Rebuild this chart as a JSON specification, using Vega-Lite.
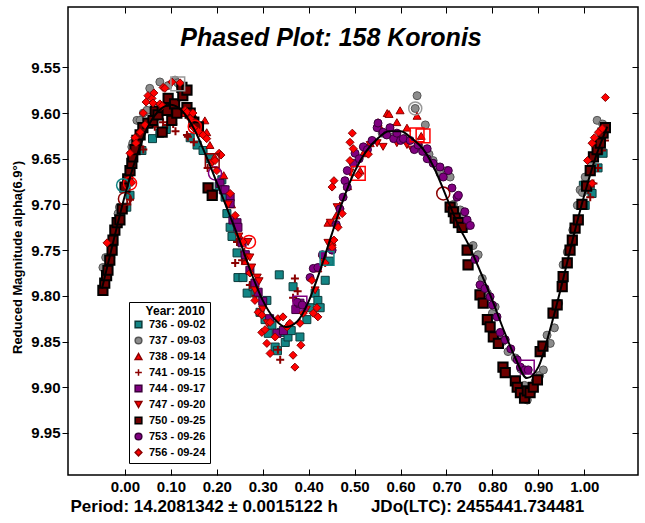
{
"$schema": "https://vega.github.io/schema/vega-lite/v6.json",
"width": 570,
"height": 468,
"autosize": "none",
"padding": {"left": 68, "top": 7, "right": 7, "bottom": 48},
"background": "white",
"config": {"view": {"stroke": "#000", "strokeWidth": 1.5}, "font": "Liberation Sans",
 "legend": {"orient": "none", "legendX": 61, "legendY": 295, "fillColor": "white", "strokeColor": "#000", "padding": 4, "titleFont": "Liberation Sans", "titleFontSize": 12, "titleFontWeight": "bold", "titleColor": "#000", "titleAnchor": "end", "titlePadding": 1, "labelFont": "Liberation Sans", "labelFontSize": 11, "labelFontWeight": "bold", "labelColor": "#000", "symbolSize": 45, "rowPadding": 3, "labelOffset": 5}},
"title": {"text": "Phased Plot: 158 Koronis", "font": "Liberation Sans", "fontSize": 25, "fontStyle": "italic", "fontWeight": "bold", "color": "#000", "anchor": "middle", "dx": -22, "offset": -64, "baseline": "alphabetic"},
"datasets": {
"pts": [
{"series":"736 - 09-02","phase":-0.01,"mag":9.708},{"series":"736 - 09-02","phase":0.004,"mag":9.703},{"series":"736 - 09-02","phase":0.011,"mag":9.69},{"series":"736 - 09-02","phase":0.037,"mag":9.641},{"series":"736 - 09-02","phase":0.06,"mag":9.628},{"series":"736 - 09-02","phase":0.076,"mag":9.622},{"series":"736 - 09-02","phase":0.09,"mag":9.618},{"series":"736 - 09-02","phase":0.142,"mag":9.627},{"series":"736 - 09-02","phase":0.157,"mag":9.635},{"series":"736 - 09-02","phase":0.17,"mag":9.641},{"series":"736 - 09-02","phase":0.185,"mag":9.65},{"series":"736 - 09-02","phase":0.192,"mag":9.688},{"series":"736 - 09-02","phase":0.205,"mag":9.68},{"series":"736 - 09-02","phase":0.211,"mag":9.673},{"series":"736 - 09-02","phase":0.218,"mag":9.692},{"series":"736 - 09-02","phase":0.222,"mag":9.71},{"series":"736 - 09-02","phase":0.229,"mag":9.725},{"series":"736 - 09-02","phase":0.233,"mag":9.735},{"series":"736 - 09-02","phase":0.244,"mag":9.753},{"series":"736 - 09-02","phase":0.246,"mag":9.78},{"series":"736 - 09-02","phase":0.257,"mag":9.78},{"series":"736 - 09-02","phase":0.266,"mag":9.797},{"series":"736 - 09-02","phase":0.279,"mag":9.79},{"series":"736 - 09-02","phase":0.285,"mag":9.797},{"series":"736 - 09-02","phase":0.294,"mag":9.818},{"series":"736 - 09-02","phase":0.305,"mag":9.826},{"series":"736 - 09-02","phase":0.309,"mag":9.805},{"series":"736 - 09-02","phase":0.312,"mag":9.841},{"series":"736 - 09-02","phase":0.32,"mag":9.832},{"series":"736 - 09-02","phase":0.327,"mag":9.856},{"series":"736 - 09-02","phase":0.332,"mag":9.86},{"series":"736 - 09-02","phase":0.336,"mag":9.777},{"series":"736 - 09-02","phase":0.34,"mag":9.84},{"series":"736 - 09-02","phase":0.349,"mag":9.851},{"series":"736 - 09-02","phase":0.355,"mag":9.845},{"series":"736 - 09-02","phase":0.362,"mag":9.838},{"series":"736 - 09-02","phase":0.366,"mag":9.79},{"series":"736 - 09-02","phase":0.381,"mag":9.845},{"series":"736 - 09-02","phase":0.396,"mag":9.826},{"series":"736 - 09-02","phase":0.403,"mag":9.813},{"series":"736 - 09-02","phase":0.414,"mag":9.797},{"series":"736 - 09-02","phase":0.42,"mag":9.805},{"series":"736 - 09-02","phase":0.425,"mag":9.813},{"series":"736 - 09-02","phase":0.436,"mag":9.783},{"series":"736 - 09-02","phase":0.445,"mag":9.762},{"series":"736 - 09-02","phase":0.998,"mag":9.679},{"series":"736 - 09-02","phase":1.002,"mag":9.701},{"series":"736 - 09-02","phase":1.013,"mag":9.684},{"series":"736 - 09-02","phase":1.017,"mag":9.688},{"series":"736 - 09-02","phase":1.03,"mag":9.66},{"series":"736 - 09-02","phase":1.041,"mag":9.644},
{"series":"737 - 09-03","phase":-0.048,"mag":9.769},{"series":"737 - 09-03","phase":-0.042,"mag":9.758},{"series":"737 - 09-03","phase":-0.015,"mag":9.71},{"series":"737 - 09-03","phase":-0.012,"mag":9.703},{"series":"737 - 09-03","phase":0.015,"mag":9.637},{"series":"737 - 09-03","phase":0.017,"mag":9.633},{"series":"737 - 09-03","phase":0.026,"mag":9.608},{"series":"737 - 09-03","phase":0.033,"mag":9.608},{"series":"737 - 09-03","phase":0.04,"mag":9.6},{"series":"737 - 09-03","phase":0.048,"mag":9.597},{"series":"737 - 09-03","phase":0.054,"mag":9.573},{"series":"737 - 09-03","phase":0.076,"mag":9.566},{"series":"737 - 09-03","phase":0.094,"mag":9.57},{"series":"737 - 09-03","phase":0.109,"mag":9.564},{"series":"737 - 09-03","phase":0.12,"mag":9.57},{"series":"737 - 09-03","phase":0.115,"mag":9.567},{"series":"737 - 09-03","phase":0.56,"mag":9.622},{"series":"737 - 09-03","phase":0.585,"mag":9.626},{"series":"737 - 09-03","phase":0.61,"mag":9.628},{"series":"737 - 09-03","phase":0.636,"mag":9.581},{"series":"737 - 09-03","phase":0.632,"mag":9.595},{"series":"737 - 09-03","phase":0.64,"mag":9.636},{"series":"737 - 09-03","phase":0.654,"mag":9.613},{"series":"737 - 09-03","phase":0.662,"mag":9.645},{"series":"737 - 09-03","phase":0.671,"mag":9.652},{"series":"737 - 09-03","phase":0.68,"mag":9.659},{"series":"737 - 09-03","phase":0.686,"mag":9.666},{"series":"737 - 09-03","phase":0.701,"mag":9.663},{"series":"737 - 09-03","phase":0.708,"mag":9.67},{"series":"737 - 09-03","phase":0.715,"mag":9.7},{"series":"737 - 09-03","phase":0.73,"mag":9.706},{"series":"737 - 09-03","phase":0.736,"mag":9.712},{"series":"737 - 09-03","phase":0.747,"mag":9.723},{"series":"737 - 09-03","phase":0.758,"mag":9.745},{"series":"737 - 09-03","phase":0.769,"mag":9.755},{"series":"737 - 09-03","phase":0.778,"mag":9.781},{"series":"737 - 09-03","phase":0.789,"mag":9.797},{"series":"737 - 09-03","phase":0.8,"mag":9.819},{"series":"737 - 09-03","phase":0.806,"mag":9.812},{"series":"737 - 09-03","phase":0.813,"mag":9.845},{"series":"737 - 09-03","phase":0.822,"mag":9.85},{"series":"737 - 09-03","phase":0.834,"mag":9.861},{"series":"737 - 09-03","phase":0.85,"mag":9.868},{"series":"737 - 09-03","phase":0.862,"mag":9.88},{"series":"737 - 09-03","phase":0.87,"mag":9.898},{"series":"737 - 09-03","phase":0.876,"mag":9.914},{"series":"737 - 09-03","phase":0.885,"mag":9.905},{"series":"737 - 09-03","phase":0.893,"mag":9.894},{"series":"737 - 09-03","phase":0.903,"mag":9.887},{"series":"737 - 09-03","phase":0.911,"mag":9.881},{"series":"737 - 09-03","phase":0.919,"mag":9.843},{"series":"737 - 09-03","phase":0.926,"mag":9.852},{"series":"737 - 09-03","phase":0.935,"mag":9.835},{"series":"737 - 09-03","phase":0.944,"mag":9.808},{"series":"737 - 09-03","phase":0.954,"mag":9.766},{"series":"737 - 09-03","phase":0.963,"mag":9.752},{"series":"737 - 09-03","phase":0.975,"mag":9.728},{"series":"737 - 09-03","phase":0.985,"mag":9.701},{"series":"737 - 09-03","phase":0.991,"mag":9.684},{"series":"737 - 09-03","phase":0.996,"mag":9.687},{"series":"737 - 09-03","phase":1.002,"mag":9.67},{"series":"737 - 09-03","phase":1.015,"mag":9.655},{"series":"737 - 09-03","phase":1.028,"mag":9.608},{"series":"737 - 09-03","phase":1.04,"mag":9.612},
{"series":"738 - 09-14","phase":0.13,"mag":9.6},{"series":"738 - 09-14","phase":0.15,"mag":9.603},{"series":"738 - 09-14","phase":0.16,"mag":9.612},{"series":"738 - 09-14","phase":0.17,"mag":9.622},{"series":"738 - 09-14","phase":0.174,"mag":9.608},{"series":"738 - 09-14","phase":0.178,"mag":9.621},{"series":"738 - 09-14","phase":0.185,"mag":9.635},{"series":"738 - 09-14","phase":0.195,"mag":9.648},{"series":"738 - 09-14","phase":0.215,"mag":9.668},{"series":"738 - 09-14","phase":0.232,"mag":9.7},{"series":"738 - 09-14","phase":0.25,"mag":9.735},{"series":"738 - 09-14","phase":0.262,"mag":9.762},{"series":"738 - 09-14","phase":0.42,"mag":9.77},{"series":"738 - 09-14","phase":0.442,"mag":9.72},{"series":"738 - 09-14","phase":0.451,"mag":9.741},{"series":"738 - 09-14","phase":0.46,"mag":9.712},{"series":"738 - 09-14","phase":0.468,"mag":9.701},{"series":"738 - 09-14","phase":0.485,"mag":9.68},{"series":"738 - 09-14","phase":0.512,"mag":9.663},{"series":"738 - 09-14","phase":0.519,"mag":9.644},{"series":"738 - 09-14","phase":0.534,"mag":9.633},{"series":"738 - 09-14","phase":0.551,"mag":9.61},{"series":"738 - 09-14","phase":0.556,"mag":9.616},{"series":"738 - 09-14","phase":0.571,"mag":9.6},{"series":"738 - 09-14","phase":0.575,"mag":9.601},{"series":"738 - 09-14","phase":0.592,"mag":9.61},{"series":"738 - 09-14","phase":0.599,"mag":9.597},{"series":"738 - 09-14","phase":0.614,"mag":9.616},{"series":"738 - 09-14","phase":0.636,"mag":9.603},{"series":"738 - 09-14","phase":0.645,"mag":9.625},
{"series":"741 - 09-15","phase":-0.045,"mag":9.785},{"series":"741 - 09-15","phase":-0.03,"mag":9.758},{"series":"741 - 09-15","phase":-0.01,"mag":9.72},{"series":"741 - 09-15","phase":0.011,"mag":9.695},{"series":"741 - 09-15","phase":0.005,"mag":9.7},{"series":"741 - 09-15","phase":0.033,"mag":9.637},{"series":"741 - 09-15","phase":0.04,"mag":9.64},{"series":"741 - 09-15","phase":0.065,"mag":9.615},{"series":"741 - 09-15","phase":0.083,"mag":9.61},{"series":"741 - 09-15","phase":0.092,"mag":9.613},{"series":"741 - 09-15","phase":0.105,"mag":9.612},{"series":"741 - 09-15","phase":0.11,"mag":9.62},{"series":"741 - 09-15","phase":0.135,"mag":9.624},{"series":"741 - 09-15","phase":0.137,"mag":9.626},{"series":"741 - 09-15","phase":0.15,"mag":9.632},{"series":"741 - 09-15","phase":0.18,"mag":9.66},{"series":"741 - 09-15","phase":0.244,"mag":9.741},{"series":"741 - 09-15","phase":0.24,"mag":9.764},{"series":"741 - 09-15","phase":0.255,"mag":9.761},{"series":"741 - 09-15","phase":0.26,"mag":9.752},{"series":"741 - 09-15","phase":0.272,"mag":9.788},{"series":"741 - 09-15","phase":0.285,"mag":9.8},{"series":"741 - 09-15","phase":0.333,"mag":9.859},{"series":"741 - 09-15","phase":0.338,"mag":9.87},{"series":"741 - 09-15","phase":0.366,"mag":9.802},{"series":"741 - 09-15","phase":0.37,"mag":9.781},{"series":"741 - 09-15","phase":0.376,"mag":9.795},{"series":"741 - 09-15","phase":1.009,"mag":9.684},{"series":"741 - 09-15","phase":1.013,"mag":9.692},{"series":"741 - 09-15","phase":1.02,"mag":9.677},{"series":"741 - 09-15","phase":1.03,"mag":9.66},{"series":"741 - 09-15","phase":1.039,"mag":9.641},{"series":"741 - 09-15","phase":1.045,"mag":9.63},
{"series":"744 - 09-17","phase":0.207,"mag":9.677},{"series":"744 - 09-17","phase":0.214,"mag":9.684},{"series":"744 - 09-17","phase":0.218,"mag":9.684},{"series":"744 - 09-17","phase":0.229,"mag":9.692},{"series":"744 - 09-17","phase":0.229,"mag":9.699},{"series":"744 - 09-17","phase":0.235,"mag":9.717},{"series":"744 - 09-17","phase":0.244,"mag":9.72},{"series":"744 - 09-17","phase":0.246,"mag":9.725},{"series":"744 - 09-17","phase":0.255,"mag":9.742},{"series":"744 - 09-17","phase":0.262,"mag":9.755},{"series":"744 - 09-17","phase":0.272,"mag":9.772},{"series":"744 - 09-17","phase":0.283,"mag":9.786},{"series":"744 - 09-17","phase":0.29,"mag":9.796},{"series":"744 - 09-17","phase":0.3,"mag":9.806},{"series":"744 - 09-17","phase":0.315,"mag":9.825},{"series":"744 - 09-17","phase":0.331,"mag":9.841},{"series":"744 - 09-17","phase":0.345,"mag":9.838},{"series":"744 - 09-17","phase":0.372,"mag":9.815},{"series":"744 - 09-17","phase":0.381,"mag":9.808},
{"series":"747 - 09-20","phase":0.19,"mag":9.655},{"series":"747 - 09-20","phase":0.225,"mag":9.7},{"series":"747 - 09-20","phase":0.248,"mag":9.735},{"series":"747 - 09-20","phase":0.266,"mag":9.758},{"series":"747 - 09-20","phase":0.268,"mag":9.741},{"series":"747 - 09-20","phase":0.272,"mag":9.758},{"series":"747 - 09-20","phase":0.276,"mag":9.769},{"series":"747 - 09-20","phase":0.283,"mag":9.794},{"series":"747 - 09-20","phase":0.288,"mag":9.78},{"series":"747 - 09-20","phase":0.292,"mag":9.784},{"series":"747 - 09-20","phase":0.3,"mag":9.815},{"series":"747 - 09-20","phase":0.31,"mag":9.83},{"series":"747 - 09-20","phase":0.395,"mag":9.815},{"series":"747 - 09-20","phase":0.414,"mag":9.794},{"series":"747 - 09-20","phase":0.43,"mag":9.76},{"series":"747 - 09-20","phase":0.442,"mag":9.742},{"series":"747 - 09-20","phase":0.447,"mag":9.72},{"series":"747 - 09-20","phase":0.462,"mag":9.703},{"series":"747 - 09-20","phase":0.49,"mag":9.665},{"series":"747 - 09-20","phase":0.51,"mag":9.65},{"series":"747 - 09-20","phase":0.534,"mag":9.635},{"series":"747 - 09-20","phase":0.549,"mag":9.633},{"series":"747 - 09-20","phase":0.562,"mag":9.637},{"series":"747 - 09-20","phase":0.592,"mag":9.633},{"series":"747 - 09-20","phase":0.614,"mag":9.635},{"series":"747 - 09-20","phase":0.625,"mag":9.64},
{"series":"750 - 09-25","phase":-0.048,"mag":9.794},{"series":"750 - 09-25","phase":-0.044,"mag":9.786},{"series":"750 - 09-25","phase":-0.04,"mag":9.778},{"series":"750 - 09-25","phase":-0.037,"mag":9.772},{"series":"750 - 09-25","phase":-0.033,"mag":9.761},{"series":"750 - 09-25","phase":-0.028,"mag":9.75},{"series":"750 - 09-25","phase":-0.026,"mag":9.739},{"series":"750 - 09-25","phase":-0.022,"mag":9.728},{"series":"750 - 09-25","phase":-0.017,"mag":9.72},{"series":"750 - 09-25","phase":-0.011,"mag":9.717},{"series":"750 - 09-25","phase":-0.006,"mag":9.705},{"series":"750 - 09-25","phase":0.0,"mag":9.681},{"series":"750 - 09-25","phase":0.006,"mag":9.672},{"series":"750 - 09-25","phase":0.011,"mag":9.663},{"series":"750 - 09-25","phase":0.015,"mag":9.655},{"series":"750 - 09-25","phase":0.017,"mag":9.648},{"series":"750 - 09-25","phase":0.022,"mag":9.64},{"series":"750 - 09-25","phase":0.026,"mag":9.63},{"series":"750 - 09-25","phase":0.033,"mag":9.624},{"series":"750 - 09-25","phase":0.039,"mag":9.616},{"series":"750 - 09-25","phase":0.05,"mag":9.611},{"series":"750 - 09-25","phase":0.061,"mag":9.608},{"series":"750 - 09-25","phase":0.066,"mag":9.598},{"series":"750 - 09-25","phase":0.072,"mag":9.602},{"series":"750 - 09-25","phase":0.081,"mag":9.594},{"series":"750 - 09-25","phase":0.081,"mag":9.621},{"series":"750 - 09-25","phase":0.092,"mag":9.597},{"series":"750 - 09-25","phase":0.094,"mag":9.584},{"series":"750 - 09-25","phase":0.102,"mag":9.608},{"series":"750 - 09-25","phase":0.108,"mag":9.59},{"series":"750 - 09-25","phase":0.113,"mag":9.6},{"series":"750 - 09-25","phase":0.124,"mag":9.572},{"series":"750 - 09-25","phase":0.126,"mag":9.581},{"series":"750 - 09-25","phase":0.135,"mag":9.594},{"series":"750 - 09-25","phase":0.135,"mag":9.575},{"series":"750 - 09-25","phase":0.142,"mag":9.6},{"series":"750 - 09-25","phase":0.15,"mag":9.61},{"series":"750 - 09-25","phase":0.16,"mag":9.615},{"series":"750 - 09-25","phase":0.181,"mag":9.682},{"series":"750 - 09-25","phase":0.19,"mag":9.69},{"series":"750 - 09-25","phase":0.708,"mag":9.703},{"series":"750 - 09-25","phase":0.715,"mag":9.708},{"series":"750 - 09-25","phase":0.719,"mag":9.715},{"series":"750 - 09-25","phase":0.726,"mag":9.72},{"series":"750 - 09-25","phase":0.734,"mag":9.725},{"series":"750 - 09-25","phase":0.745,"mag":9.75},{"series":"750 - 09-25","phase":0.747,"mag":9.766},{"series":"750 - 09-25","phase":0.773,"mag":9.799},{"series":"750 - 09-25","phase":0.78,"mag":9.808},{"series":"750 - 09-25","phase":0.789,"mag":9.826},{"series":"750 - 09-25","phase":0.795,"mag":9.834},{"series":"750 - 09-25","phase":0.802,"mag":9.845},{"series":"750 - 09-25","phase":0.813,"mag":9.852},{"series":"750 - 09-25","phase":0.823,"mag":9.878},{"series":"750 - 09-25","phase":0.828,"mag":9.884},{"series":"750 - 09-25","phase":0.85,"mag":9.893},{"series":"750 - 09-25","phase":0.854,"mag":9.9},{"series":"750 - 09-25","phase":0.861,"mag":9.906},{"series":"750 - 09-25","phase":0.87,"mag":9.912},{"series":"750 - 09-25","phase":0.876,"mag":9.904},{"series":"750 - 09-25","phase":0.882,"mag":9.906},{"series":"750 - 09-25","phase":0.889,"mag":9.9},{"series":"750 - 09-25","phase":0.898,"mag":9.892},{"series":"750 - 09-25","phase":0.904,"mag":9.861},{"series":"750 - 09-25","phase":0.91,"mag":9.855},{"series":"750 - 09-25","phase":0.932,"mag":9.819},{"series":"750 - 09-25","phase":0.941,"mag":9.81},{"series":"750 - 09-25","phase":0.952,"mag":9.79},{"series":"750 - 09-25","phase":0.954,"mag":9.779},{"series":"750 - 09-25","phase":0.963,"mag":9.764},{"series":"750 - 09-25","phase":0.969,"mag":9.75},{"series":"750 - 09-25","phase":0.974,"mag":9.739},{"series":"750 - 09-25","phase":0.98,"mag":9.726},{"series":"750 - 09-25","phase":0.987,"mag":9.717},{"series":"750 - 09-25","phase":0.995,"mag":9.7},{"series":"750 - 09-25","phase":1.005,"mag":9.68},{"series":"750 - 09-25","phase":1.013,"mag":9.663},{"series":"750 - 09-25","phase":1.02,"mag":9.648},{"series":"750 - 09-25","phase":1.028,"mag":9.64},{"series":"750 - 09-25","phase":1.035,"mag":9.633},{"series":"750 - 09-25","phase":1.041,"mag":9.622},{"series":"750 - 09-25","phase":1.046,"mag":9.616},
{"series":"753 - 09-26","phase":0.375,"mag":9.807},{"series":"753 - 09-26","phase":0.386,"mag":9.81},{"series":"753 - 09-26","phase":0.403,"mag":9.78},{"series":"753 - 09-26","phase":0.41,"mag":9.77},{"series":"753 - 09-26","phase":0.42,"mag":9.769},{"series":"753 - 09-26","phase":0.43,"mag":9.755},{"series":"753 - 09-26","phase":0.451,"mag":9.75},{"series":"753 - 09-26","phase":0.46,"mag":9.722},{"series":"753 - 09-26","phase":0.468,"mag":9.705},{"series":"753 - 09-26","phase":0.475,"mag":9.692},{"series":"753 - 09-26","phase":0.479,"mag":9.674},{"series":"753 - 09-26","phase":0.484,"mag":9.681},{"series":"753 - 09-26","phase":0.484,"mag":9.663},{"series":"753 - 09-26","phase":0.497,"mag":9.655},{"series":"753 - 09-26","phase":0.501,"mag":9.644},{"series":"753 - 09-26","phase":0.51,"mag":9.65},{"series":"753 - 09-26","phase":0.519,"mag":9.637},{"series":"753 - 09-26","phase":0.528,"mag":9.64},{"series":"753 - 09-26","phase":0.538,"mag":9.63},{"series":"753 - 09-26","phase":0.549,"mag":9.616},{"series":"753 - 09-26","phase":0.551,"mag":9.611},{"series":"753 - 09-26","phase":0.562,"mag":9.621},{"series":"753 - 09-26","phase":0.57,"mag":9.624},{"series":"753 - 09-26","phase":0.577,"mag":9.616},{"series":"753 - 09-26","phase":0.585,"mag":9.628},{"series":"753 - 09-26","phase":0.592,"mag":9.622},{"series":"753 - 09-26","phase":0.6,"mag":9.63},{"series":"753 - 09-26","phase":0.606,"mag":9.628},{"series":"753 - 09-26","phase":0.621,"mag":9.63},{"series":"753 - 09-26","phase":0.63,"mag":9.64},{"series":"753 - 09-26","phase":0.638,"mag":9.635},{"series":"753 - 09-26","phase":0.648,"mag":9.642},{"series":"753 - 09-26","phase":0.658,"mag":9.639},{"series":"753 - 09-26","phase":0.658,"mag":9.65},{"series":"753 - 09-26","phase":0.671,"mag":9.655},{"series":"753 - 09-26","phase":0.686,"mag":9.659},{"series":"753 - 09-26","phase":0.693,"mag":9.67},{"series":"753 - 09-26","phase":0.704,"mag":9.663},{"series":"753 - 09-26","phase":0.712,"mag":9.682},{"series":"753 - 09-26","phase":0.723,"mag":9.692},{"series":"753 - 09-26","phase":0.726,"mag":9.69},{"series":"753 - 09-26","phase":0.74,"mag":9.708},{"series":"753 - 09-26","phase":0.745,"mag":9.717},{"series":"753 - 09-26","phase":0.752,"mag":9.723},{"series":"753 - 09-26","phase":0.762,"mag":9.76},{"series":"753 - 09-26","phase":0.773,"mag":9.788},{"series":"753 - 09-26","phase":0.784,"mag":9.792},{"series":"753 - 09-26","phase":0.795,"mag":9.801},{"series":"753 - 09-26","phase":0.8,"mag":9.81},{"series":"753 - 09-26","phase":0.81,"mag":9.823},{"series":"753 - 09-26","phase":0.817,"mag":9.84},{"series":"753 - 09-26","phase":0.828,"mag":9.848},{"series":"753 - 09-26","phase":0.84,"mag":9.858},{"series":"753 - 09-26","phase":0.854,"mag":9.87},{"series":"753 - 09-26","phase":0.861,"mag":9.878},{"series":"753 - 09-26","phase":0.871,"mag":9.881},{"series":"753 - 09-26","phase":0.878,"mag":9.881},
{"series":"756 - 09-24","phase":-0.039,"mag":9.742},{"series":"756 - 09-24","phase":0.011,"mag":9.644},{"series":"756 - 09-24","phase":0.015,"mag":9.676},{"series":"756 - 09-24","phase":0.022,"mag":9.627},{"series":"756 - 09-24","phase":0.024,"mag":9.633},{"series":"756 - 09-24","phase":0.033,"mag":9.621},{"series":"756 - 09-24","phase":0.04,"mag":9.6},{"series":"756 - 09-24","phase":0.044,"mag":9.613},{"series":"756 - 09-24","phase":0.046,"mag":9.588},{"series":"756 - 09-24","phase":0.05,"mag":9.581},{"series":"756 - 09-24","phase":0.059,"mag":9.584},{"series":"756 - 09-24","phase":0.061,"mag":9.589},{"series":"756 - 09-24","phase":0.063,"mag":9.578},{"series":"756 - 09-24","phase":0.076,"mag":9.59},{"series":"756 - 09-24","phase":0.083,"mag":9.572},{"series":"756 - 09-24","phase":0.087,"mag":9.573},{"series":"756 - 09-24","phase":0.081,"mag":9.592},{"series":"756 - 09-24","phase":0.102,"mag":9.566},{"series":"756 - 09-24","phase":0.12,"mag":9.567},{"series":"756 - 09-24","phase":0.131,"mag":9.597},{"series":"756 - 09-24","phase":0.135,"mag":9.599},{"series":"756 - 09-24","phase":0.142,"mag":9.606},{"series":"756 - 09-24","phase":0.148,"mag":9.6},{"series":"756 - 09-24","phase":0.15,"mag":9.616},{"series":"756 - 09-24","phase":0.16,"mag":9.62},{"series":"756 - 09-24","phase":0.17,"mag":9.624},{"series":"756 - 09-24","phase":0.178,"mag":9.628},{"series":"756 - 09-24","phase":0.196,"mag":9.652},{"series":"756 - 09-24","phase":0.2,"mag":9.663},{"series":"756 - 09-24","phase":0.205,"mag":9.644},{"series":"756 - 09-24","phase":0.209,"mag":9.646},{"series":"756 - 09-24","phase":0.229,"mag":9.688},{"series":"756 - 09-24","phase":0.24,"mag":9.712},{"series":"756 - 09-24","phase":0.257,"mag":9.741},{"series":"756 - 09-24","phase":0.272,"mag":9.775},{"series":"756 - 09-24","phase":0.283,"mag":9.805},{"series":"756 - 09-24","phase":0.29,"mag":9.818},{"series":"756 - 09-24","phase":0.298,"mag":9.821},{"series":"756 - 09-24","phase":0.298,"mag":9.84},{"series":"756 - 09-24","phase":0.305,"mag":9.837},{"series":"756 - 09-24","phase":0.309,"mag":9.852},{"series":"756 - 09-24","phase":0.316,"mag":9.829},{"series":"756 - 09-24","phase":0.316,"mag":9.863},{"series":"756 - 09-24","phase":0.327,"mag":9.845},{"series":"756 - 09-24","phase":0.333,"mag":9.825},{"series":"756 - 09-24","phase":0.344,"mag":9.823},{"series":"756 - 09-24","phase":0.353,"mag":9.834},{"series":"756 - 09-24","phase":0.359,"mag":9.83},{"series":"756 - 09-24","phase":0.366,"mag":9.865},{"series":"756 - 09-24","phase":0.37,"mag":9.878},{"series":"756 - 09-24","phase":0.381,"mag":9.83},{"series":"756 - 09-24","phase":0.383,"mag":9.854},{"series":"756 - 09-24","phase":0.388,"mag":9.819},{"series":"756 - 09-24","phase":0.407,"mag":9.783},{"series":"756 - 09-24","phase":0.41,"mag":9.819},{"series":"756 - 09-24","phase":0.418,"mag":9.813},{"series":"756 - 09-24","phase":0.42,"mag":9.823},{"series":"756 - 09-24","phase":0.436,"mag":9.764},{"series":"756 - 09-24","phase":0.451,"mag":9.747},{"series":"756 - 09-24","phase":0.455,"mag":9.739},{"series":"756 - 09-24","phase":0.464,"mag":9.725},{"series":"756 - 09-24","phase":0.473,"mag":9.71},{"series":"756 - 09-24","phase":0.451,"mag":9.681},{"series":"756 - 09-24","phase":0.455,"mag":9.674},{"series":"756 - 09-24","phase":0.49,"mag":9.632},{"series":"756 - 09-24","phase":0.49,"mag":9.652},{"series":"756 - 09-24","phase":0.495,"mag":9.622},{"series":"756 - 09-24","phase":0.497,"mag":9.639},{"series":"756 - 09-24","phase":0.508,"mag":9.668},{"series":"756 - 09-24","phase":0.53,"mag":9.645},{"series":"756 - 09-24","phase":1.007,"mag":9.652},{"series":"756 - 09-24","phase":1.017,"mag":9.677},{"series":"756 - 09-24","phase":1.017,"mag":9.633},{"series":"756 - 09-24","phase":1.022,"mag":9.627},{"series":"756 - 09-24","phase":1.031,"mag":9.621},{"series":"756 - 09-24","phase":1.039,"mag":9.617},{"series":"756 - 09-24","phase":1.046,"mag":9.583}
],
"rings": [
{"series":"756 - 09-24","phase":0.152,"mag":9.615},{"series":"756 - 09-24","phase":0.011,"mag":9.677},{"series":"736 - 09-02","phase":-0.004,"mag":9.679},{"series":"744 - 09-17","phase":0.196,"mag":9.666},{"series":"747 - 09-20","phase":0.27,"mag":9.741},{"series":"737 - 09-03","phase":0.632,"mag":9.595},{"series":"750 - 09-25","phase":0.693,"mag":9.688},{"series":"741 - 09-15","phase":0.0,"mag":9.694}
],
"boxes": [
{"series":"737 - 09-03","phase":0.115,"mag":9.568},{"series":"750 - 09-25","phase":0.19,"mag":9.652},{"series":"736 - 09-02","phase":0.44,"mag":9.759},{"series":"744 - 09-17","phase":0.381,"mag":9.808},{"series":"738 - 09-14","phase":0.508,"mag":9.666},{"series":"738 - 09-14","phase":0.636,"mag":9.624},{"series":"747 - 09-20","phase":0.649,"mag":9.625},{"series":"753 - 09-26","phase":0.876,"mag":9.878}
],
"fit": [
{"phase":-0.05,"mag":9.792},{"phase":-0.025,"mag":9.74},{"phase":0.0,"mag":9.69},{"phase":0.025,"mag":9.648},{"phase":0.05,"mag":9.615},{"phase":0.075,"mag":9.597},{"phase":0.1,"mag":9.591},{"phase":0.125,"mag":9.598},{"phase":0.15,"mag":9.617},{"phase":0.175,"mag":9.645},{"phase":0.2,"mag":9.676},{"phase":0.225,"mag":9.708},{"phase":0.25,"mag":9.74},{"phase":0.275,"mag":9.775},{"phase":0.3,"mag":9.805},{"phase":0.325,"mag":9.825},{"phase":0.35,"mag":9.834},{"phase":0.375,"mag":9.828},{"phase":0.4,"mag":9.806},{"phase":0.425,"mag":9.772},{"phase":0.45,"mag":9.733},{"phase":0.475,"mag":9.695},{"phase":0.5,"mag":9.664},{"phase":0.525,"mag":9.642},{"phase":0.55,"mag":9.628},{"phase":0.575,"mag":9.62},{"phase":0.6,"mag":9.62},{"phase":0.625,"mag":9.628},{"phase":0.65,"mag":9.64},{"phase":0.675,"mag":9.662},{"phase":0.7,"mag":9.692},{"phase":0.725,"mag":9.722},{"phase":0.75,"mag":9.746},{"phase":0.775,"mag":9.775},{"phase":0.8,"mag":9.805},{"phase":0.825,"mag":9.838},{"phase":0.85,"mag":9.868},{"phase":0.875,"mag":9.89},{"phase":0.9,"mag":9.878},{"phase":0.925,"mag":9.838},{"phase":0.95,"mag":9.79},{"phase":0.975,"mag":9.738},{"phase":1.0,"mag":9.69},{"phase":1.025,"mag":9.648},{"phase":1.05,"mag":9.615}
]
},
"resolve": {"axis": {"x": "independent", "y": "independent"}},
"layer": [
{
"data": {"name": "pts"},
"mark": {"type": "point", "filled": true, "opacity": 1},
"encoding": {
"x": {"field": "phase", "type": "quantitative", "scale": {"domain": [-0.124, 1.117], "nice": false, "zero": false},
 "axis": {"orient": "bottom", "values": [0, 0.1, 0.2, 0.3, 0.4, 0.5, 0.6, 0.7, 0.8, 0.9, 1.0], "format": ".2f", "tickSize": -6, "tickColor": "#000", "tickWidth": 1, "domain": false, "grid": false, "labelPadding": 10, "labelFont": "Liberation Sans", "labelFontSize": 15, "labelFontWeight": "bold", "labelColor": "#000", "labelFlush": false, "labelOverlap": false,
  "title": "Period: 14.2081342 ± 0.0015122 h\u00a0\u00a0\u00a0\u00a0\u00a0\u00a0\u00a0JDo(LTC): 2455441.734481", "titleFont": "Liberation Sans", "titleFontSize": 17, "titleFontWeight": "bold", "titleColor": "#000", "titleAnchor": "start", "titleAlign": "left", "titleX": 2, "titlePadding": 4}},
"y": {"field": "mag", "type": "quantitative", "scale": {"domain": [9.484, 9.996], "reverse": true, "nice": false, "zero": false},
 "axis": {"orient": "left", "values": [9.55, 9.6, 9.65, 9.7, 9.75, 9.8, 9.85, 9.9, 9.95], "format": ".2f", "tickSize": 6, "tickColor": "#000", "tickWidth": 1, "domain": false, "grid": false, "labelPadding": 2, "labelFont": "Liberation Sans", "labelFontSize": 15, "labelFontWeight": "bold", "labelColor": "#000",
  "title": "Reduced Magnitude alpha(6.9°)", "titleFont": "Liberation Sans", "titleFontSize": 13, "titleFontWeight": "bold", "titleColor": "#000", "titlePadding": 6, "titleY": 250}},
"fill": {"field": "series", "type": "nominal", "scale": {"domain": ["736 - 09-02","737 - 09-03","738 - 09-14","741 - 09-15","744 - 09-17","747 - 09-20","750 - 09-25","753 - 09-26","756 - 09-24"], "range": ["#138585","#8c8c8c","#ff0000","#8b0000","#800080","#ff0000","#6e0000","#800080","#ff0000"]}, "legend": {"title": "Year: 2010"}},
"stroke": {"field": "series", "type": "nominal", "scale": {"domain": ["736 - 09-02","737 - 09-03","738 - 09-14","741 - 09-15","744 - 09-17","747 - 09-20","750 - 09-25","753 - 09-26","756 - 09-24"], "range": ["#0b3b3b","#555555","#8a0000","#8b0000","#3a003a","#8a0000","#000000","#3a003a","#8a0000"]}, "legend": {"title": "Year: 2010"}},
"shape": {"field": "series", "type": "nominal", "scale": {"domain": ["736 - 09-02","737 - 09-03","738 - 09-14","741 - 09-15","744 - 09-17","747 - 09-20","750 - 09-25","753 - 09-26","756 - 09-24"], "range": ["square","circle","triangle-up","M-1,0H1M0,-1V1","square","triangle-down","square","circle","diamond"]}, "legend": {"title": "Year: 2010"}},
"strokeWidth": {"condition": {"test": "datum.series == '750 - 09-25' || datum.series == '741 - 09-15'", "value": 2}, "value": 1},
"size": {"condition": {"test": "datum.series == '750 - 09-25'", "value": 85}, "value": 64}
}
},
{
"data": {"name": "rings"},
"mark": {"type": "point", "filled": false, "shape": "circle", "size": 170, "strokeWidth": 1.5, "opacity": 1},
"encoding": {
"x": {"field": "phase", "type": "quantitative", "axis": null},
"y": {"field": "mag", "type": "quantitative", "axis": null},
"color": {"field": "series", "type": "nominal", "legend": null, "scale": {"domain": ["736 - 09-02","737 - 09-03","738 - 09-14","741 - 09-15","744 - 09-17","747 - 09-20","750 - 09-25","753 - 09-26","756 - 09-24"], "range": ["#138585","#999999","#ff0000","#8b0000","#800080","#ff0000","#8b0000","#800080","#ff0000"]}}
}
},
{
"data": {"name": "boxes"},
"mark": {"type": "point", "filled": false, "shape": "square", "size": 190, "strokeWidth": 1.5, "opacity": 1},
"encoding": {
"x": {"field": "phase", "type": "quantitative", "axis": null},
"y": {"field": "mag", "type": "quantitative", "axis": null},
"color": {"field": "series", "type": "nominal", "legend": null}
}
},
{
"data": {"name": "fit"},
"mark": {"type": "line", "color": "#000", "strokeWidth": 2, "interpolate": "monotone"},
"encoding": {
"x": {"field": "phase", "type": "quantitative", "axis": {"orient": "top", "values": [0, 0.1, 0.2, 0.3, 0.4, 0.5, 0.6, 0.7, 0.8, 0.9, 1.0], "tickSize": -6, "tickColor": "#000", "labels": false, "domain": false, "grid": false, "title": null}},
"y": {"field": "mag", "type": "quantitative", "axis": {"orient": "right", "values": [9.55, 9.6, 9.65, 9.7, 9.75, 9.8, 9.85, 9.9, 9.95], "tickSize": -6, "tickColor": "#000", "labels": false, "domain": false, "grid": false, "title": null}}
}
}
]
}
